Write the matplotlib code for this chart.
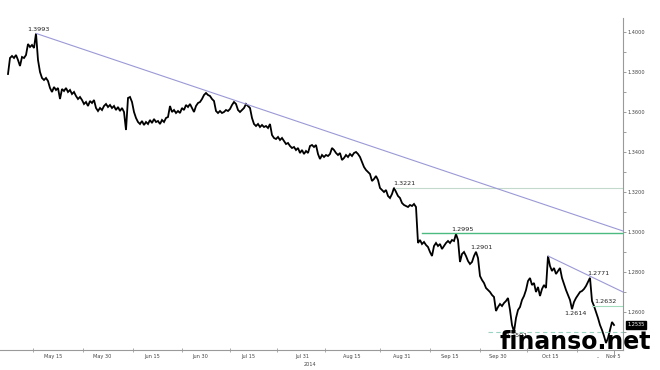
import numpy as np
import matplotlib.pyplot as plt

# EUR/USD, one value every 2 px of the original chart (x starts at px 8)
prices = [
    1.3790, 1.3870, 1.3880, 1.3870, 1.3885, 1.3860, 1.3830, 1.3875, 1.3870, 1.3885,
    1.3940, 1.3925, 1.3935, 1.3920, 1.3993, 1.3860, 1.3800, 1.3770, 1.3760, 1.3770,
    1.3755, 1.3720, 1.3700, 1.3725, 1.3710, 1.3720, 1.3665, 1.3715, 1.3705, 1.3720,
    1.3700, 1.3710, 1.3690, 1.3700, 1.3680, 1.3665, 1.3675, 1.3660, 1.3640, 1.3650,
    1.3630, 1.3655, 1.3645, 1.3660, 1.3620, 1.3605, 1.3620, 1.3610, 1.3630, 1.3640,
    1.3625, 1.3635, 1.3620, 1.3630, 1.3610, 1.3625, 1.3605, 1.3620, 1.3600, 1.3510,
    1.3670, 1.3675, 1.3650, 1.3600, 1.3570, 1.3550, 1.3540, 1.3555, 1.3535, 1.3550,
    1.3540, 1.3560, 1.3545, 1.3565, 1.3550, 1.3555, 1.3540, 1.3560, 1.3550, 1.3570,
    1.3575, 1.3630, 1.3600, 1.3610, 1.3595, 1.3605, 1.3595, 1.3620, 1.3610, 1.3635,
    1.3625, 1.3640, 1.3620, 1.3600, 1.3630, 1.3645, 1.3650, 1.3665, 1.3685, 1.3695,
    1.3685, 1.3680, 1.3665, 1.3655, 1.3605, 1.3595, 1.3605, 1.3595, 1.3600, 1.3610,
    1.3605, 1.3615, 1.3635, 1.3650, 1.3640, 1.3610, 1.3600, 1.3610, 1.3620, 1.3640,
    1.3630, 1.3620, 1.3570, 1.3540, 1.3530, 1.3540, 1.3525, 1.3535, 1.3525, 1.3530,
    1.3520, 1.3540, 1.3485, 1.3470, 1.3465, 1.3475, 1.3460, 1.3470, 1.3455, 1.3440,
    1.3445, 1.3430, 1.3420, 1.3425, 1.3410, 1.3420, 1.3395, 1.3410, 1.3390, 1.3405,
    1.3395, 1.3430, 1.3435, 1.3425, 1.3435, 1.3390, 1.3365, 1.3385, 1.3375, 1.3385,
    1.3380, 1.3390, 1.3420, 1.3410, 1.3395, 1.3385, 1.3395, 1.3360, 1.3370, 1.3385,
    1.3375, 1.3390, 1.3380, 1.3395, 1.3400, 1.3390, 1.3375, 1.3350, 1.3325, 1.3310,
    1.3300, 1.3290, 1.3255, 1.3265, 1.3280, 1.3260, 1.3220, 1.3210, 1.3200, 1.3210,
    1.3180, 1.3170, 1.3190, 1.3221, 1.3200, 1.3180, 1.3170, 1.3145, 1.3135, 1.3130,
    1.3125, 1.3135, 1.3130, 1.3140, 1.3125, 1.2945, 1.2960, 1.2940, 1.2950, 1.2935,
    1.2925, 1.2900, 1.2880, 1.2930, 1.2945, 1.2930, 1.2940, 1.2915, 1.2930, 1.2945,
    1.2955, 1.2945, 1.2960, 1.2955, 1.2990, 1.2960, 1.2850, 1.2890, 1.2900, 1.2880,
    1.2855, 1.2840, 1.2850, 1.2880, 1.2901, 1.2870, 1.2780, 1.2760, 1.2745, 1.2720,
    1.2710, 1.2700, 1.2685, 1.2675, 1.2605, 1.2625, 1.2640, 1.2630, 1.2645, 1.2655,
    1.2670, 1.2610, 1.2535, 1.2501, 1.2570, 1.2610, 1.2625, 1.2660, 1.2680, 1.2710,
    1.2755, 1.2770, 1.2735, 1.2745, 1.2700, 1.2725, 1.2680, 1.2715, 1.2735, 1.2720,
    1.2880, 1.2830, 1.2805, 1.2820, 1.2790, 1.2805, 1.2820, 1.2770, 1.2740, 1.2710,
    1.2685, 1.2660, 1.2614, 1.2650, 1.2670, 1.2685, 1.2700, 1.2705, 1.2715, 1.2730,
    1.2750, 1.2771, 1.2655, 1.2630, 1.2600, 1.2570, 1.2535, 1.2510, 1.2480, 1.2445,
    1.2470, 1.2510, 1.2550, 1.2535,
]
x = 8 + 2 * np.arange(len(prices))

# horizontal support / resistance levels
levels = [1.3221, 1.2995, 1.2632, 1.2501]
level_start = [395, 422, 592, 488]
level_colors = ['#c3d9cc', '#4dbb80', '#a3dcbc', '#9ad3c4']
level_styles = ['-', '-', '-', (0, (4, 3))]
level_widths = [0.8, 1.0, 0.8, 0.8]

# falling trend lines: start point, value at right edge
trend_start = [(36, 1.3993), (548, 1.2880)]
trend_end = [1.3005, 1.2700]

# price labels
label_values = [1.3993, 1.3221, 1.2995, 1.2901, 1.2771, 1.2632, 1.2614, 1.2501]
label_x = [38, 404, 462, 481, 598, 605, 575, 516]
label_above = [True, True, True, True, True, True, False, False]

tick_labels = ['May 15', 'May 30', 'Jun 15', 'Jun 30', 'Jul 15', 'Jul 31', 'Aug 15',
               'Aug 31', 'Sep 15', 'Sep 30', 'Oct 15', '..', 'Nov 5']
tick_pos = [53, 102, 152, 200, 248, 302, 352, 402, 450, 498, 550, 598, 613]
tick_marks = [33, 83, 133, 182, 230, 277, 325, 380, 430, 480, 527, 577]

fig = plt.figure(figsize=(6.6, 3.7), dpi=100)
ax = fig.add_axes([0, 20 / 370, 623 / 660, 332 / 370])

ax.plot(x, prices, color='black', lw=1.3, solid_joinstyle='miter')

right = 623
for lv, xs, c, ls, lw in zip(levels, level_start, level_colors, level_styles, level_widths):
    ax.plot([xs, right], [lv, lv], color=c, ls=ls, lw=lw)

for (xs, ys), ye in zip(trend_start, trend_end):
    ax.plot([xs, right], [ys, ye], color='#9b99d6', lw=0.8)

for v, lx, up in zip(label_values, label_x, label_above):
    ax.annotate(f'{v:.4f}', xy=(lx, v), xytext=(0, 1 if up else -1),
                textcoords='offset points', ha='center',
                va='bottom' if up else 'top', fontsize=4.6, color='#222222')

ax.set_xlim(0, right)
ax.set_ylim(1.241, 1.407)

for s in ['top', 'left']:
    ax.spines[s].set_visible(False)
for s in ['right', 'bottom']:
    ax.spines[s].set_color('#9a9a9a')
    ax.spines[s].set_linewidth(0.8)

ax.yaxis.tick_right()
ax.set_yticks(np.arange(1.26, 1.4001, 0.02))
ax.set_yticks(np.arange(1.25, 1.4001, 0.01), minor=True)
ax.yaxis.set_major_formatter('{x:.4f}')
ax.tick_params(axis='y', which='both', direction='out', length=2, width=0.5,
               color='#777777', labelsize=3.6, labelcolor='#444444', pad=1)

ax.set_xticks(tick_pos)
ax.set_xticklabels(tick_labels)
ax.set_xticks(tick_marks, minor=True)
ax.tick_params(axis='x', which='major', length=0, labelsize=3.6,
               labelcolor='#444444', pad=3)
ax.tick_params(axis='x', which='minor', direction='inout', length=2.5,
               width=0.5, color='#888888')

ax.annotate('2014', xy=(310, 0), xycoords=('data', 'axes fraction'),
            xytext=(0, -9), textcoords='offset points', ha='center', va='top',
            fontsize=3.6, color='#444444')

# last price box
ax.annotate(f'{prices[-1]:.4f}', xy=(1, prices[-1]), xycoords=('axes fraction', 'data'),
            xytext=(3, 0), textcoords='offset points', ha='left', va='center',
            fontsize=3.6, color='white',
            bbox=dict(boxstyle='square,pad=0.25', fc='black', ec='black'))
ax.plot([x[-1], x[-1]], [1.241, 1.2375], color='#888888', lw=0.6, clip_on=False)

fig.text(575 / 660, 1 - 342 / 370, 'finanso.net', ha='center', va='center',
         fontsize=17, fontweight='bold', color='black')

fig.savefig('out.png', dpi=100, facecolor='white')
